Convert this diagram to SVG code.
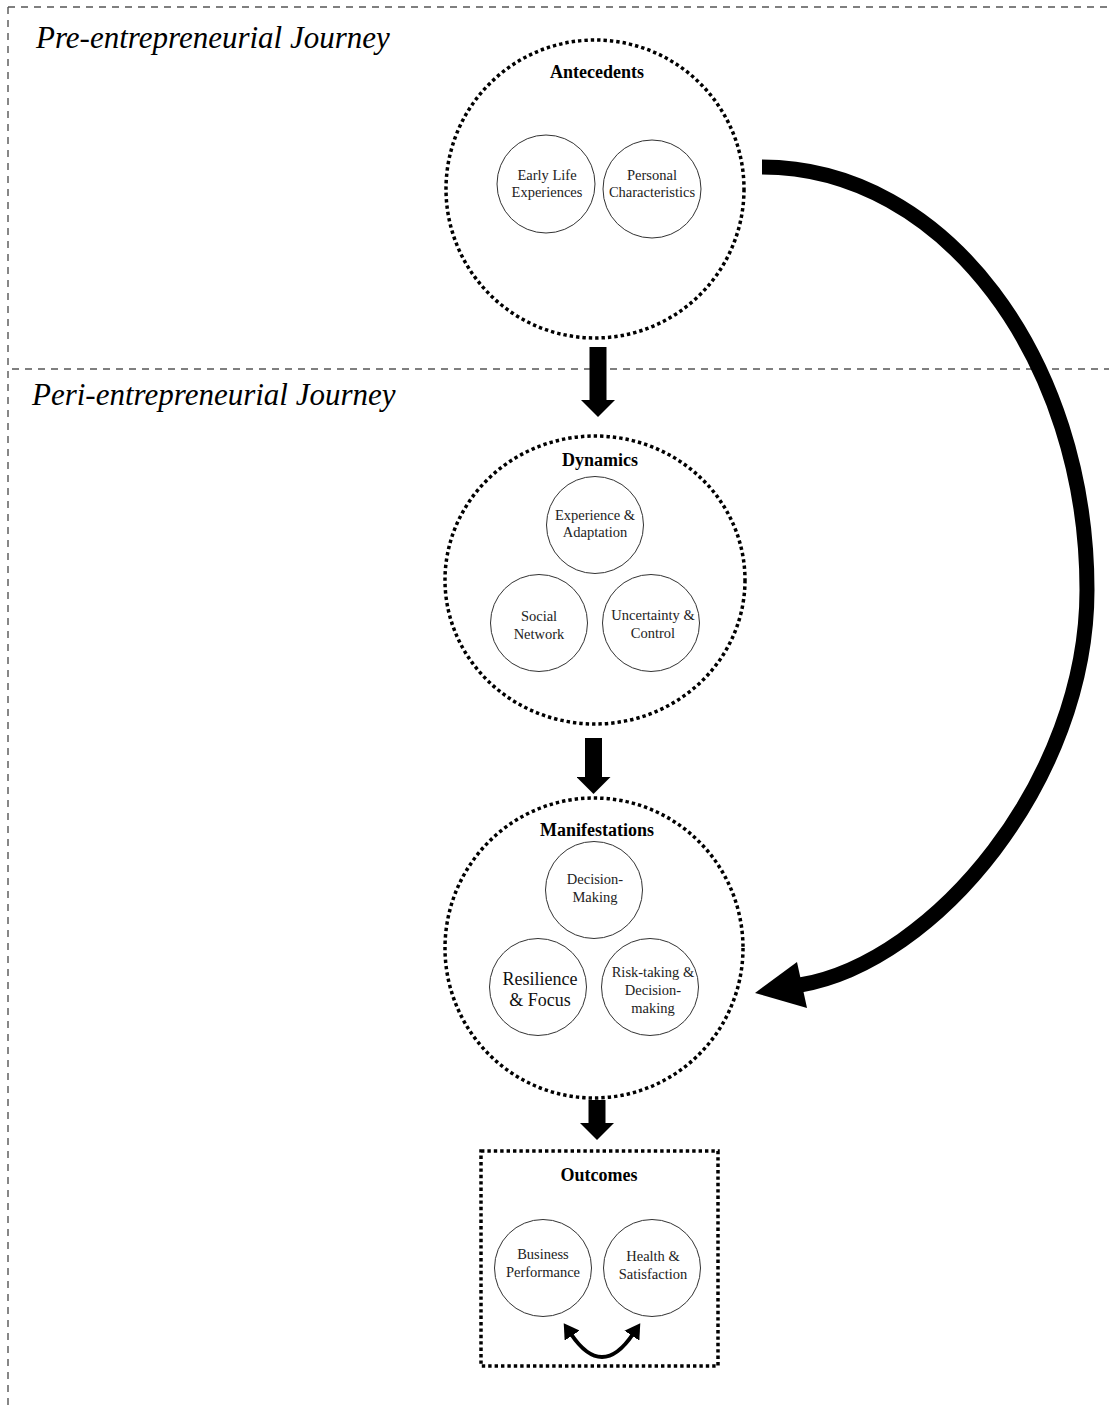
<svg xmlns="http://www.w3.org/2000/svg" width="1109" height="1409" viewBox="0 0 1109 1409">
<style>
.frame{fill:none;stroke:#555;stroke-width:1.4;stroke-dasharray:7 6}
.dotc{fill:#fff;stroke:#000;stroke-width:3.5;stroke-dasharray:3.4 3}
.inner{fill:#fff;stroke:#333;stroke-width:1}
.title{font-family:"Liberation Serif","Times New Roman",serif;font-style:italic;font-size:31px;fill:#000}
.head{font-family:"Liberation Serif","Times New Roman",serif;font-weight:bold;font-size:18px;fill:#000;text-anchor:middle}
.lbl{font-family:"Liberation Serif","Times New Roman",serif;font-size:14.5px;fill:#222;text-anchor:middle}
.lblbig{font-family:"Liberation Serif","Times New Roman",serif;font-size:18px;fill:#111;text-anchor:middle}
.shaft{stroke:#000;stroke-width:17;fill:none}
</style>
<defs>
<marker id="block" viewBox="0 0 17 34" refX="0" refY="17" markerWidth="17" markerHeight="34" markerUnits="userSpaceOnUse" orient="auto">
<path d="M0 0 L17 17 L0 34 Z" fill="#000"/>
</marker>
<marker id="small" viewBox="0 0 15 18" refX="2" refY="9" markerWidth="15" markerHeight="18" markerUnits="userSpaceOnUse" orient="auto-start-reverse">
<path d="M0 0 L15 9 L0 18 Z" fill="#000"/>
</marker>
</defs>

<g id="frames">
<line class="frame" x1="8" y1="7" x2="1109" y2="7"/>
<line class="frame" x1="8" y1="7" x2="8" y2="1409"/>
<line class="frame" x1="12" y1="369" x2="1109" y2="369"/>
<text class="title" x="36" y="48">Pre-entrepreneurial Journey</text>
<text class="title" x="32" y="405">Peri-entrepreneurial Journey</text>
</g>

<g id="antecedents">
<circle class="dotc" cx="595" cy="189" r="149"/>
<text class="head" x="597" y="78">Antecedents</text>
<g id="early-life">
<circle class="inner" cx="546" cy="184" r="49"/>
<text class="lbl" x="547" y="180">Early Life</text>
<text class="lbl" x="547" y="197">Experiences</text>
</g>
<g id="personal">
<circle class="inner" cx="652" cy="189" r="49"/>
<text class="lbl" x="652" y="180">Personal</text>
<text class="lbl" x="652" y="197">Characteristics</text>
</g>
</g>

<g id="dynamics">
<ellipse class="dotc" cx="595" cy="580" rx="150" ry="144"/>
<text class="head" x="600" y="466">Dynamics</text>
<g id="experience">
<circle class="inner" cx="595" cy="525" r="48.5"/>
<text class="lbl" x="595" y="520">Experience &amp;</text>
<text class="lbl" x="595" y="537">Adaptation</text>
</g>
<g id="social">
<circle class="inner" cx="539" cy="623" r="48.5"/>
<text class="lbl" x="539" y="621">Social</text>
<text class="lbl" x="539" y="639">Network</text>
</g>
<g id="uncertainty">
<circle class="inner" cx="651" cy="623" r="48.5"/>
<text class="lbl" x="653" y="620">Uncertainty &amp;</text>
<text class="lbl" x="653" y="638">Control</text>
</g>
</g>

<g id="manifestations">
<ellipse class="dotc" cx="594" cy="948" rx="149" ry="150"/>
<text class="head" x="597" y="836">Manifestations</text>
<g id="decision">
<circle class="inner" cx="594" cy="890" r="48.5"/>
<text class="lbl" x="595" y="884">Decision-</text>
<text class="lbl" x="595" y="902">Making</text>
</g>
<g id="resilience">
<circle class="inner" cx="538" cy="987" r="48.5"/>
<text class="lblbig" x="540" y="985">Resilience</text>
<text class="lblbig" x="540" y="1006">&amp; Focus</text>
</g>
<g id="risk">
<circle class="inner" cx="650" cy="987" r="48.5"/>
<text class="lbl" x="653" y="977">Risk-taking &amp;</text>
<text class="lbl" x="653" y="995">Decision-</text>
<text class="lbl" x="653" y="1013">making</text>
</g>
</g>

<g id="outcomes">
<rect class="dotc" x="481" y="1151" width="237" height="215"/>
<text class="head" x="599" y="1181">Outcomes</text>
<g id="business">
<circle class="inner" cx="543" cy="1268" r="48.5"/>
<text class="lbl" x="543" y="1259">Business</text>
<text class="lbl" x="543" y="1277">Performance</text>
</g>
<g id="health">
<circle class="inner" cx="652" cy="1268" r="48.5"/>
<text class="lbl" x="653" y="1261">Health &amp;</text>
<text class="lbl" x="653" y="1279">Satisfaction</text>
</g>
</g>

<g id="connectors">
<line class="shaft" x1="598" y1="347" x2="598" y2="400" marker-end="url(#block)"/>
<line class="shaft" x1="593.5" y1="738" x2="593.5" y2="777" marker-end="url(#block)"/>
<line class="shaft" x1="597" y1="1100" x2="597" y2="1123" marker-end="url(#block)"/>
<path d="M762 167 C945 167 1087 360 1087 590 C1087 780 935 962 800 985" fill="none" stroke="#000" stroke-width="15"/>
<polygon points="755,993 797,962 807,1008" fill="#000"/>
<path d="M571 1334 Q602 1380 633 1334" fill="none" stroke="#000" stroke-width="4" marker-start="url(#small)" marker-end="url(#small)"/>
</g>
</svg>
